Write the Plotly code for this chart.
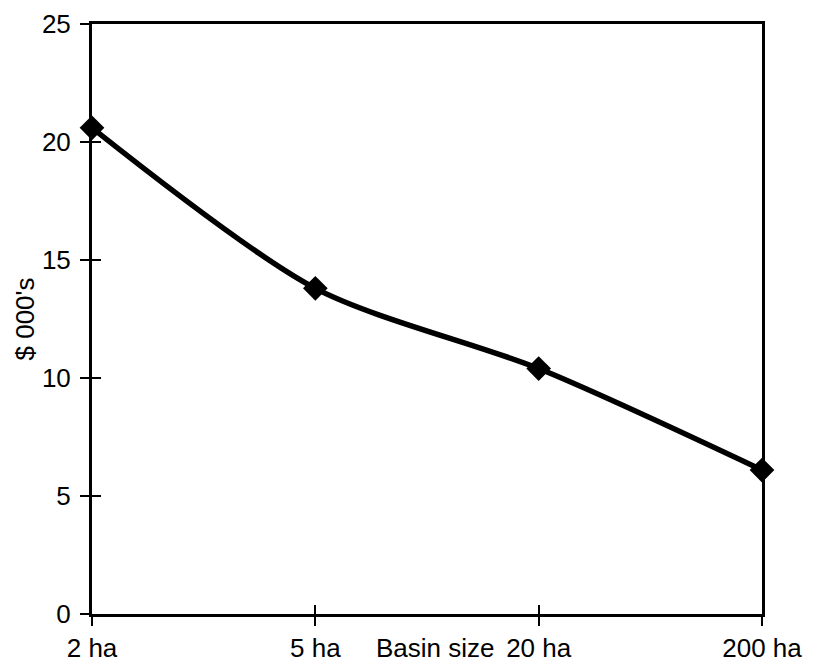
import plotly.graph_objects as go

categories = ["2 ha", "5 ha", "20 ha", "200 ha"]
values = [20.6, 13.8, 10.4, 6.1]
y_ticks = [0, 5, 10, 15, 20, 25]

x_pos = list(range(len(categories)))
FONT = dict(family="Liberation Sans, Arial, sans-serif", size=26, color="black")

fig = go.Figure()
fig.add_trace(go.Scatter(
    x=x_pos, y=values, mode="lines+markers",
    line=dict(color="black", width=5.5, shape="spline", smoothing=0.8),
    marker=dict(symbol="diamond", size=19, color="black"),
    cliponaxis=False, showlegend=False,
))
# invisible trace on overlaid axes for inner tick marks
fig.add_trace(go.Scatter(x=x_pos, y=values, xaxis="x2", yaxis="y2",
                         mode="markers", marker=dict(opacity=0), showlegend=False,
                         hoverinfo="skip"))

fig.update_layout(
    width=818, height=664,
    margin=dict(l=92, r=56, t=24, b=50),
    paper_bgcolor="white", plot_bgcolor="white",
    font=FONT,
    xaxis=dict(range=[0, 3], tickvals=x_pos, ticktext=categories,
               showline=True, linecolor="black", linewidth=3, mirror=True,
               ticks="outside", ticklen=9, tickwidth=1.5, tickcolor="black",
               ticklabelstandoff=0, automargin=False,
               showgrid=False, zeroline=False, tickfont=FONT),
    yaxis=dict(range=[0, 25], tickvals=y_ticks,
               showline=True, linecolor="black", linewidth=3, mirror=True,
               ticks="outside", ticklen=9, tickwidth=1.5, tickcolor="black",
               ticklabelstandoff=4, automargin=False,
               showgrid=False, zeroline=False, tickfont=FONT,
               title=dict(text="$ 000's", font=FONT, standoff=0)),
    xaxis2=dict(range=[0, 3], tickvals=x_pos, overlaying="x", showticklabels=False,
                ticks="inside", ticklen=9, tickwidth=1.5, tickcolor="black",
                showgrid=False, zeroline=False, showline=False, automargin=False),
    yaxis2=dict(range=[0, 25], tickvals=y_ticks, overlaying="y", showticklabels=False,
                ticks="inside", ticklen=9, tickwidth=1.5, tickcolor="black",
                showgrid=False, zeroline=False, showline=False, automargin=False),
    annotations=[dict(text="Basin size", x=1.54, y=0, xref="x", yref="paper",
                      yanchor="middle", yshift=-34, showarrow=False, font=FONT)],
)

fig.write_html("out.html")
